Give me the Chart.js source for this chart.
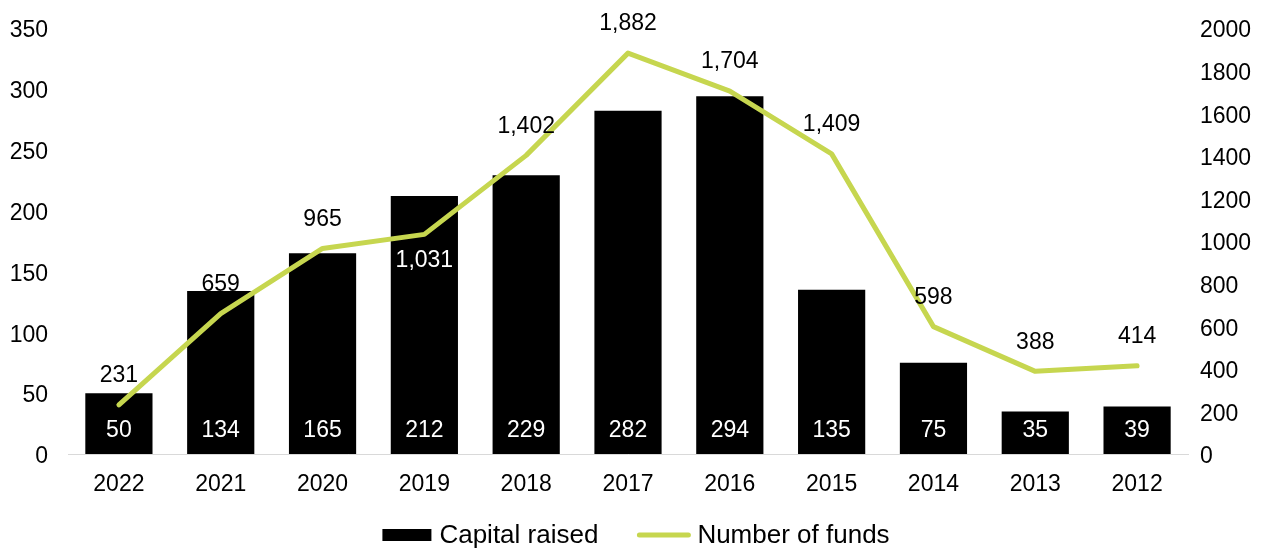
<!DOCTYPE html>
<html>
<head>
<meta charset="utf-8">
<script src="https://cdn.jsdelivr.net/npm/chart.js@4/dist/chart.umd.min.js"></script>
<style>
  html, body { margin: 0; padding: 0; background: #fff; }
  #wrap { width: 1272px; height: 550px; }
</style>
</head>
<body>
<div id="wrap"><canvas id="c" width="1272" height="550"></canvas></div>
<script>
const years = ['2022', '2021', '2020', '2019', '2018', '2017', '2016', '2015', '2014', '2013', '2012'];
const capitalRaised = [50, 134, 165, 212, 229, 282, 294, 135, 75, 35, 39];
const numberOfFunds = [231, 659, 965, 1031, 1402, 1882, 1704, 1409, 598, 388, 414];
const leftTicks = [0, 50, 100, 150, 200, 250, 300, 350];
const rightTicks = [0, 200, 400, 600, 800, 1000, 1200, 1400, 1600, 1800, 2000];
// years whose fund-count label sits under the line instead of over it
const fundLabelsBelow = ['2019'];

const FONT = '"Liberation Sans", Arial, sans-serif';
const FONT_SIZE = 23;
const LEGEND_FONT_SIZE = 26;
const LINE_GREEN = '#C6D64F';

const fmt = v => v.toLocaleString('en-US');

// value labels: white figures at the foot of each bar, counts along the line
const valueLabels = {
  id: 'valueLabels',
  afterDatasetsDraw(chart) {
    const ctx = chart.ctx;
    const yL = chart.scales.y;
    ctx.save();
    ctx.font = FONT_SIZE + 'px ' + FONT;
    ctx.textAlign = 'center';
    ctx.textBaseline = 'middle';
    const barMeta = chart.getDatasetMeta(0);
    barMeta.data.forEach((bar, i) => {
      ctx.fillStyle = '#ffffff';
      ctx.fillText(fmt(capitalRaised[i]), bar.x, yL.getPixelForValue(0) - 23);
    });
    const lineMeta = chart.getDatasetMeta(1);
    lineMeta.data.forEach((pt, i) => {
      const below = fundLabelsBelow.includes(years[i]);
      ctx.fillStyle = below ? '#ffffff' : '#000000';
      ctx.fillText(fmt(numberOfFunds[i]), pt.x, below ? pt.y + 26 : pt.y - 29);
    });
    ctx.restore();
  }
};

// bottom legend: filled swatch for the bars, thick stroke for the line
const bottomLegend = {
  id: 'bottomLegend',
  afterDraw(chart) {
    const ctx = chart.ctx;
    ctx.save();
    ctx.font = LEGEND_FONT_SIZE + 'px ' + FONT;
    ctx.textBaseline = 'middle';
    ctx.textAlign = 'left';
    const ds = chart.data.datasets;
    const swatchW = [49, 53];
    const gapText = [8, 7], gapItem = 39;
    const widths = ds.map((d, i) => swatchW[i] + gapText[i] + ctx.measureText(d.label).width);
    const total = widths[0] + gapItem + widths[1];
    let x = (chart.width - total) / 2;
    const y = 535;
    ds.forEach((d, i) => {
      if (d.type === 'line') {
        ctx.strokeStyle = d.borderColor;
        ctx.lineWidth = 5;
        ctx.lineCap = 'round';
        ctx.beginPath();
        ctx.moveTo(x + 2, y);
        ctx.lineTo(x + swatchW[i] - 2, y);
        ctx.stroke();
      } else {
        ctx.fillStyle = d.backgroundColor;
        ctx.fillRect(x, y - 6, swatchW[i], 12);
      }
      ctx.fillStyle = '#000000';
      ctx.fillText(d.label, x + swatchW[i] + gapText[i], y + 1);
      x += widths[i] + gapItem;
    });
    ctx.restore();
  }
};

Chart.defaults.font.family = FONT;
Chart.defaults.font.size = FONT_SIZE;
Chart.defaults.color = '#000000';

new Chart(document.getElementById('c'), {
  data: {
    labels: years,
    datasets: [
      {
        type: 'bar',
        label: 'Capital raised',
        data: capitalRaised,
        backgroundColor: '#000000',
        borderWidth: 0,
        barPercentage: 0.66,
        categoryPercentage: 1,
        yAxisID: 'y',
        order: 1
      },
      {
        type: 'line',
        label: 'Number of funds',
        data: numberOfFunds,
        borderColor: LINE_GREEN,
        backgroundColor: LINE_GREEN,
        borderWidth: 5,
        pointRadius: 0,
        tension: 0,
        borderCapStyle: 'round',
        borderJoinStyle: 'round',
        yAxisID: 'y1',
        order: 0
      }
    ]
  },
  plugins: [valueLabels, bottomLegend],
  options: {
    responsive: false,
    animation: false,
    layout: { padding: { top: 28, bottom: 46, left: 0, right: 0 } },
    plugins: {
      legend: { display: false },
      tooltip: { enabled: false }
    },
    scales: {
      x: {
        grid: { display: false, drawTicks: false },
        border: { display: true, color: '#d9d9d9', width: 1 },
        ticks: { padding: 17, font: { size: FONT_SIZE } },
        afterFit(scale) { scale.height = 50; }
      },
      y: {
        position: 'left',
        min: 0,
        max: 350,
        afterBuildTicks(scale) { scale.ticks = leftTicks.map(v => ({ value: v })); },
        grid: { display: false, drawTicks: true, tickLength: 20 },
        border: { display: false },
        ticks: { padding: 0, labelOffset: 3, callback: v => String(v) },
        afterFit(scale) { scale.width = 68; }
      },
      y1: {
        position: 'right',
        min: 0,
        max: 2000,
        afterBuildTicks(scale) { scale.ticks = rightTicks.map(v => ({ value: v })); },
        grid: { display: false, drawTicks: true, tickLength: 12 },
        border: { display: false },
        ticks: { padding: 0, labelOffset: 3, callback: v => String(v) },
        afterFit(scale) { scale.width = 84; }
      }
    }
  }
});
</script>
</body>
</html>
